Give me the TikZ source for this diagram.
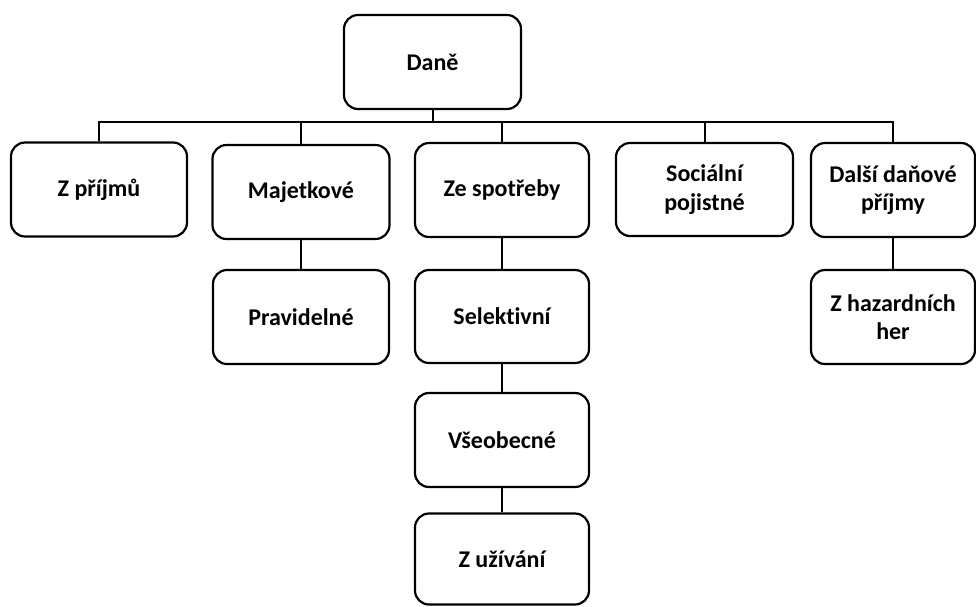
\documentclass[tikz,border=0pt]{standalone}
\usepackage{fontspec}
\setmainfont[Ligatures=NoCommon]{Carlito}
\begin{document}
\begin{tikzpicture}[x=1pt,y=-1pt,
  box/.style={draw, fill=white, line width=2.2pt, rounded corners=14pt,
    minimum width=176pt, minimum height=94pt, align=center, inner sep=0pt,
    font=\fontsize{24}{28.5}\selectfont\bfseries},
  link/.style={line width=2pt}]
\useasboundingbox (0,0) rectangle (976,606);
\coordinate (bus) at (0,122);
\node[box, minimum width=177pt] (dane) at (432.5,62) {Daně};
\node[box] (zprijmu) at (99,189.5) {Z příjmů};
\node[box, minimum width=177pt] (majetkove) at (301,192) {Majetkové};
\node[box, minimum width=174pt] (zespotreby) at (502,190) {Ze spotřeby};
\node[box, minimum width=177pt, minimum height=93pt] (socialni) at (704.5,189.5) {Sociální\\pojistné};
\node[box, minimum width=164pt] (dalsi) at (893,190) {Další daňové\\příjmy};
\node[box] (pravidelne) at (301,317) {Pravidelné};
\node[box, minimum width=174pt, minimum height=93pt] (selektivni) at (502,316.5) {Selektivní};
\node[box, minimum width=174pt] (vseobecne) at (502,440) {Všeobecné};
\node[box, minimum width=174pt, minimum height=91pt] (zuzivani) at (502,559) {Z užívání};
\node[box, minimum width=164pt] (zhazard) at (893,317) {Z hazardních\\her};
\draw[link] (dane.south) -- (dane.south |- bus);
\draw[link] (zprijmu.north) -- (zprijmu.north |- bus) -- (dalsi.north |- bus) -- (dalsi.north);
\draw[link] (majetkove.north |- bus) -- (majetkove.north);
\draw[link] (zespotreby.north |- bus) -- (zespotreby.north);
\draw[link] (socialni.north |- bus) -- (socialni.north);
\draw[link] (majetkove.south) -- (pravidelne.north);
\draw[link] (zespotreby.south) -- (selektivni.north);
\draw[link] (selektivni.south) -- (vseobecne.north);
\draw[link] (vseobecne.south) -- (zuzivani.north);
\draw[link] (dalsi.south) -- (zhazard.north);
\end{tikzpicture}
\end{document}
